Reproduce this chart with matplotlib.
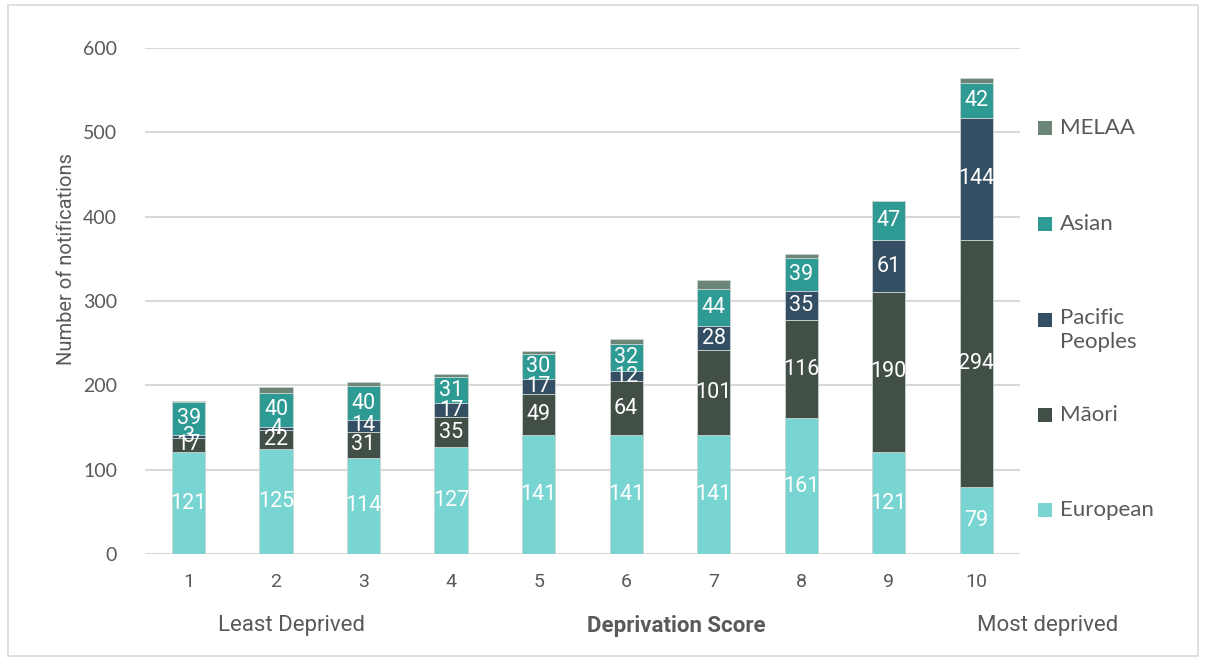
import matplotlib
matplotlib.use("Agg")
import matplotlib.pyplot as plt
from matplotlib.patches import Rectangle
import numpy as np

scores = ["1", "2", "3", "4", "5", "6", "7", "8", "9", "10"]
european = [121, 125, 114, 127, 141, 141, 141, 161, 121, 79]
maori = [17, 22, 31, 35, 49, 64, 101, 116, 190, 294]
pacific = [3, 4, 14, 17, 17, 12, 28, 35, 61, 144]
asian = [39, 40, 40, 31, 30, 32, 44, 39, 47, 42]
melaa = [1, 7, 5, 4, 4, 6, 11, 5, 0, 6]

series = [
    ("European", european, "#79D5D1", True),
    ("Māori", maori, "#424F47", True),
    ("Pacific\nPeoples", pacific, "#344F63", True),
    ("Asian", asian, "#2E9A94", True),
    ("MELAA", melaa, "#6B8676", False),
]

fig = plt.figure(figsize=(12.07, 6.6), dpi=100)
ax = fig.add_axes([0.120, 0.1606, 0.725, 0.7664])

x = np.arange(len(scores))
bottom = np.zeros(len(scores))
for name, vals, color, labelled in series:
    vals = np.array(vals, dtype=float)
    ax.bar(x, vals, width=0.38, bottom=bottom, color=color,
           edgecolor="#C9D3D0", linewidth=0.6, zorder=3)
    if labelled:
        for xi, b, v in zip(x, bottom, vals):
            if v > 0:
                ax.text(xi, b + v / 2, f"{int(v)}", ha="center", va="center",
                        color="white", fontsize=15.5, family="Roboto", zorder=4)
    bottom += vals

ax.set_xlim(-0.5, len(scores) - 0.5)
ax.set_ylim(0, 600)
ax.set_yticks(range(0, 601, 100))
ax.yaxis.grid(True, color="#D9D9D9", linewidth=1.5, zorder=0)
ax.set_axisbelow(True)
for s in ax.spines.values():
    s.set_visible(False)
ax.tick_params(axis="both", length=0)
ax.tick_params(axis="y", pad=20, labelsize=14, labelcolor="#595959")
ax.tick_params(axis="x", pad=14, labelsize=14, labelcolor="#595959")
ax.set_xticks(x)
ax.set_xticklabels(scores, family="Roboto")
for t in ax.get_yticklabels():
    t.set_family("Lato")
ax.set_ylabel("Number of notifications", fontsize=14.5, color="#595959",
              family="Roboto")
ax.yaxis.set_label_coords(-0.079, 0.583)

# bottom captions
cap_y = 1 - 626 / 660
fig.text(292 / 1207, cap_y, "Least Deprived", ha="center", va="center",
         fontsize=16, color="#595959", family="Roboto")
fig.text(676 / 1207, cap_y, "Deprivation Score", ha="center", va="center",
         fontsize=16, color="#595959", family="Roboto", weight="bold")
fig.text(1048 / 1207, cap_y, "Most deprived", ha="center", va="center",
         fontsize=16, color="#595959", family="Roboto")

# legend entries, top to bottom
legend_y = {"MELAA": 128, "Asian": 224, "Pacific\nPeoples": 320, "Māori": 415, "European": 510}
for name, vals, color, _ in series:
    yp = legend_y[name]
    fig.patches.append(Rectangle((1038 / 1207, 1 - (yp + 7) / 660), 14 / 1207, 14 / 660,
                                 transform=fig.transFigure, facecolor=color,
                                 edgecolor="none"))
    if "\n" in name:
        fig.text(1060 / 1207, 1 - (yp - 12) / 660, name, ha="left", va="top",
                 fontsize=16, color="#595959", family="Lato", linespacing=1.25)
    else:
        fig.text(1060 / 1207, 1 - yp / 660, name, ha="left", va="center",
                 fontsize=16, color="#595959", family="Lato")

# outer frame
fig.patches.append(Rectangle((8 / 1207, 4 / 660), 1190 / 1207, 651 / 660,
                             transform=fig.transFigure, facecolor="none",
                             edgecolor="#D9D9D9", linewidth=1.2))

fig.savefig("out.png", dpi=100, facecolor="white")
